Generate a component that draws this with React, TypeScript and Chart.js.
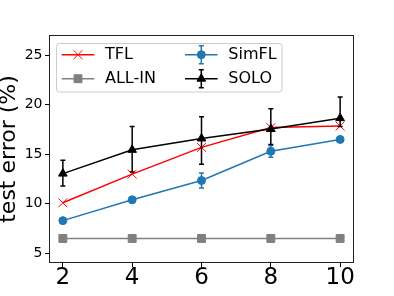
import React, { useEffect, useRef } from "react";
import { Chart, registerables } from "chart.js";
import { drawPoint } from "chart.js/helpers";

Chart.register(...registerables);

// ---- data ----
const xValues = [2, 4, 6, 8, 10];
const xTicks = [2, 4, 6, 8, 10];
const yTicks = [5, 10, 15, 20, 25];

const tflValues = [10.1, 13.0, 15.7, 17.7, 17.85];
const allInValues = [6.5, 6.5, 6.5, 6.5, 6.5];
const simflValues = [8.3, 10.4, 12.35, 15.3, 16.5];
const simflLow = [8.15, 10.25, 11.6, 14.7, 16.3];
const simflHigh = [8.45, 10.55, 13.1, 15.9, 16.7];
const soloValues = [13.05, 15.45, 16.6, 17.55, 18.65];
const soloLow = [11.8, 13.2, 14.0, 16.0, 17.8];
const soloHigh = [14.4, 17.8, 18.8, 19.6, 20.8];

const seriesNames = ["TFL", "ALL-IN", "SimFL", "SOLO"];
const seriesColors = ["#ff0000", "#808080", "#1f77b4", "#000000"];

const FONT = '"DejaVu Sans", sans-serif';

const toPoints = (ys: number[]) => xValues.map((x, i) => ({ x, y: ys[i] }));

const errorBarPlugin = {
  id: "errorBars",
  beforeDatasetDraw(chart: any, args: any) {
    const ds: any = chart.data.datasets[args.index];
    if (!ds.errLow) return;
    const ctx = chart.ctx;
    const yScale = chart.scales.y;
    ctx.save();
    ctx.strokeStyle = ds.borderColor;
    ctx.lineWidth = 1.5;
    args.meta.data.forEach((el: any, i: number) => {
      const x = el.x;
      const y1 = yScale.getPixelForValue(ds.errLow[i]);
      const y2 = yScale.getPixelForValue(ds.errHigh[i]);
      ctx.beginPath();
      ctx.moveTo(x, y1);
      ctx.lineTo(x, y2);
      ctx.moveTo(x - 2.5, y1);
      ctx.lineTo(x + 2.5, y1);
      ctx.moveTo(x - 2.5, y2);
      ctx.lineTo(x + 2.5, y2);
      ctx.stroke();
    });
    ctx.restore();
  },
};

const framePlugin = {
  id: "frame",
  afterDatasetsDraw(chart: any) {
    const { ctx, chartArea } = chart;
    ctx.save();
    ctx.strokeStyle = "#222";
    ctx.lineWidth = 1;
    ctx.strokeRect(
      Math.round(chartArea.left) + 0.5,
      Math.round(chartArea.top) + 0.5,
      Math.round(chartArea.right - chartArea.left) - 1,
      Math.round(chartArea.bottom - chartArea.top) - 1
    );
    ctx.restore();
  },
};

const legendPlugin = {
  id: "customLegend",
  afterDraw(chart: any) {
    const ctx = chart.ctx;
    ctx.save();
    ctx.beginPath();
    ctx.roundRect(56.5, 43.5, 225.5, 48.5, 3);
    ctx.fillStyle = "rgba(255,255,255,0.8)";
    ctx.fill();
    ctx.strokeStyle = "#cccccc";
    ctx.lineWidth = 1;
    ctx.stroke();

    const cols = [61.7, 185];
    const rows = [54.7, 78.7];
    const layout = [
      [0, 0],
      [0, 1],
      [1, 0],
      [1, 1],
    ];
    chart.data.datasets.forEach((ds: any) => {
      const idx = seriesNames.indexOf(ds.label);
      const [c, r] = layout[idx];
      const x1 = cols[c];
      const x2 = x1 + 32.6;
      const xm = (x1 + x2) / 2;
      const y = rows[r];
      ctx.strokeStyle = ds.borderColor;
      ctx.fillStyle = ds.pointBackgroundColor;
      ctx.lineWidth = 1.5;
      ctx.beginPath();
      ctx.moveTo(x1, y);
      ctx.lineTo(x2, y);
      ctx.stroke();
      if (ds.errLow) {
        ctx.beginPath();
        ctx.moveTo(xm, y - 9);
        ctx.lineTo(xm, y + 9);
        ctx.moveTo(xm - 2.5, y - 9);
        ctx.lineTo(xm + 2.5, y - 9);
        ctx.moveTo(xm - 2.5, y + 9);
        ctx.lineTo(xm + 2.5, y + 9);
        ctx.stroke();
      }
      ctx.strokeStyle = ds.pointBorderColor;
      ctx.lineWidth = ds.pointBorderWidth;
      drawPoint(
        ctx,
        {
          pointStyle: ds.pointStyle,
          radius: ds.pointRadius,
          rotation: 0,
          borderWidth: ds.pointBorderWidth,
        } as any,
        xm,
        y
      );
      ctx.fillStyle = "#000";
      ctx.font = `16px ${FONT}`;
      ctx.textBaseline = "middle";
      ctx.textAlign = "left";
      ctx.fillText(ds.label, x2 + 10.7, y);
    });
    ctx.restore();
  },
};

export default function App() {
  const canvasRef = useRef<HTMLCanvasElement | null>(null);

  useEffect(() => {
    if (!canvasRef.current) return;
    Chart.defaults.font.family = FONT;
    Chart.defaults.color = "#000";

    const chart = new Chart(canvasRef.current, {
      type: "line",
      data: {
        datasets: [
          {
            label: seriesNames[0],
            data: toPoints(tflValues),
            borderColor: seriesColors[0],
            backgroundColor: seriesColors[0],
            pointBackgroundColor: seriesColors[0],
            pointBorderColor: seriesColors[0],
            pointStyle: "crossRot",
            pointRadius: 6.3,
            pointBorderWidth: 1,
            borderWidth: 1.5,
            order: 4,
          } as any,
          {
            label: seriesNames[1],
            data: toPoints(allInValues),
            borderColor: seriesColors[1],
            backgroundColor: seriesColors[1],
            pointBackgroundColor: seriesColors[1],
            pointBorderColor: seriesColors[1],
            pointStyle: "rect",
            pointRadius: 5.6,
            pointBorderWidth: 1,
            borderWidth: 1.5,
            order: 3,
          },
          {
            label: seriesNames[2],
            data: toPoints(simflValues),
            errLow: simflLow,
            errHigh: simflHigh,
            borderColor: seriesColors[2],
            backgroundColor: seriesColors[2],
            pointBackgroundColor: seriesColors[2],
            pointBorderColor: seriesColors[2],
            pointStyle: "circle",
            pointRadius: 4,
            pointBorderWidth: 1,
            borderWidth: 1.5,
            order: 2,
          },
          {
            label: seriesNames[3],
            data: toPoints(soloValues),
            errLow: soloLow,
            errHigh: soloHigh,
            borderColor: seriesColors[3],
            backgroundColor: seriesColors[3],
            pointBackgroundColor: seriesColors[3],
            pointBorderColor: seriesColors[3],
            pointStyle: "triangle",
            pointRadius: 5,
            pointBorderWidth: 1,
            borderWidth: 1.5,
            order: 1,
          },
        ] as any,
      },
      options: {
        responsive: false,
        animation: false,
        layout: { padding: { top: 35, right: 40, left: 0, bottom: 0 } },
        plugins: {
          legend: { display: false },
          tooltip: { enabled: false },
        },
        scales: {
          x: {
            type: "linear",
            min: 1.6,
            max: 10.4,
            afterBuildTicks: (scale: any) => {
              scale.ticks = xTicks.map((v) => ({ value: v }));
            },
            afterFit: (scale: any) => {
              scale.height = 33;
            },
            border: { display: false },
            grid: {
              display: true,
              drawOnChartArea: false,
              drawTicks: true,
              tickLength: 4,
              tickColor: "#000",
              tickWidth: 1,
            },
            ticks: {
              color: "#000",
              padding: 0,
              maxRotation: 0,
              font: { size: 23, lineHeight: 1 },
              callback: (v: any) => String(v),
            },
          },
          y: {
            type: "linear",
            min: 4.02,
            max: 27.05,
            afterBuildTicks: (scale: any) => {
              scale.ticks = yTicks.map((v) => ({ value: v }));
            },
            afterFit: (scale: any) => {
              scale.width = 49;
            },
            border: { display: false },
            grid: {
              display: true,
              drawOnChartArea: false,
              drawTicks: true,
              tickLength: 4,
              tickColor: "#000",
              tickWidth: 1,
            },
            ticks: {
              color: "#000",
              padding: 2.5,
              font: { size: 14 },
              callback: (v: any) => String(v),
            },
            title: {
              display: true,
              text: "test error (%)",
              color: "#000",
              font: { size: 22, lineHeight: 0.86 },
              padding: { top: 0, bottom: 0 },
            },
          },
        },
      },
      plugins: [errorBarPlugin, framePlugin, legendPlugin],
    });
    return () => chart.destroy();
  }, []);

  return (
    <div style={{ position: "absolute", left: 0, top: 0, width: 394, height: 296, background: "#fff" }}>
      <canvas ref={canvasRef} width={394} height={296} style={{ display: "block" }} />
    </div>
  );
}
